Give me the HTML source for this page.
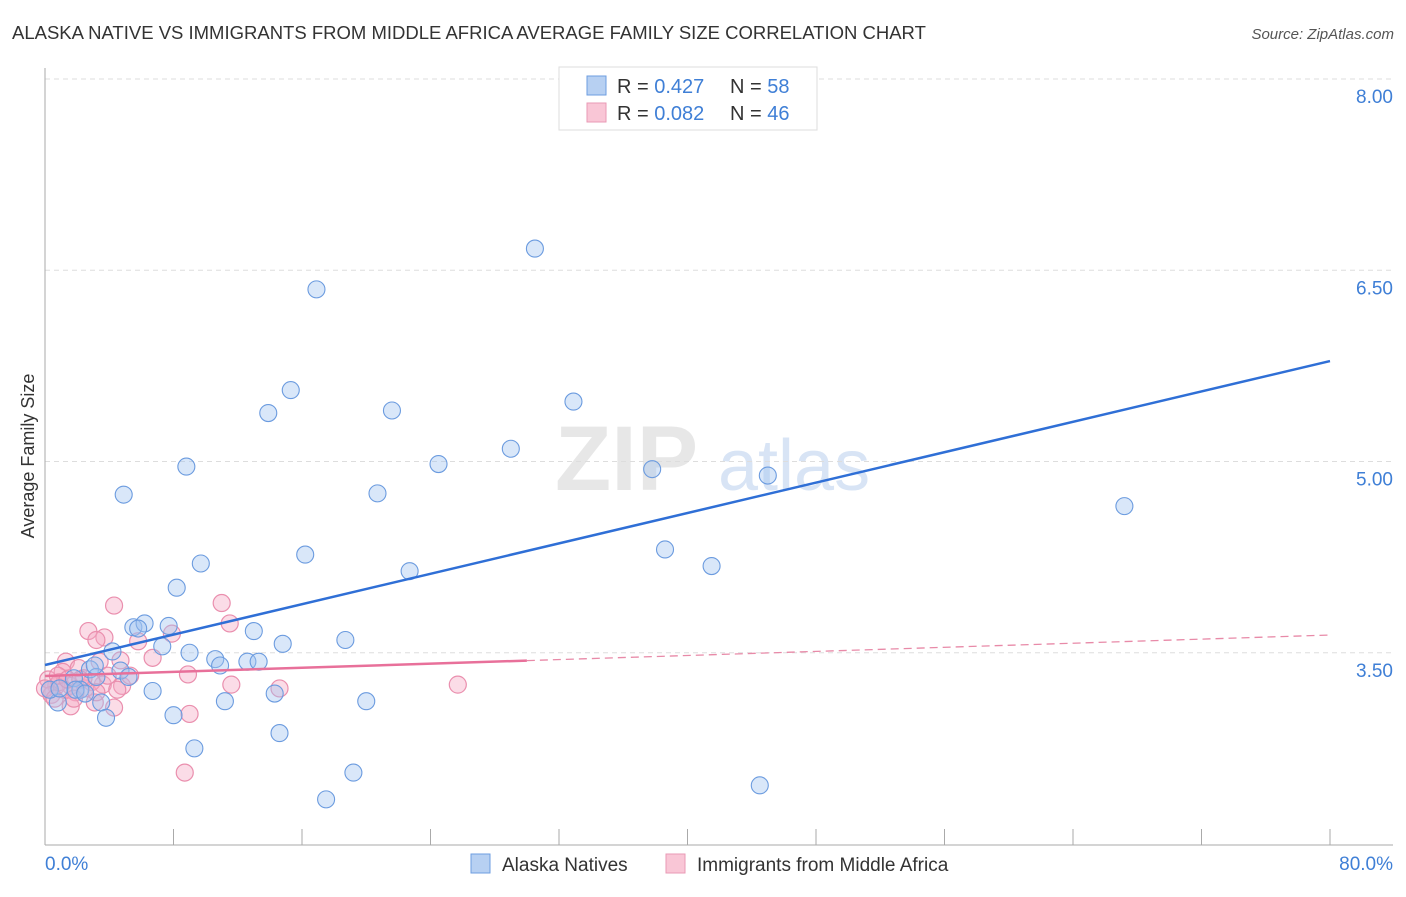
<!DOCTYPE html>
<html><head><meta charset="utf-8"><style>
body{margin:0;background:#fff;font-family:"Liberation Sans",sans-serif;}
svg text{font-family:"Liberation Sans",sans-serif;}
</style></head><body>
<svg id="chart" width="1406" height="892" xmlns="http://www.w3.org/2000/svg">
<text x="12" y="39" font-size="18.5" fill="#333">ALASKA NATIVE VS IMMIGRANTS FROM MIDDLE AFRICA AVERAGE FAMILY SIZE CORRELATION CHART</text>
<text x="1394" y="39" font-size="15" fill="#555" text-anchor="end" font-style="italic">Source: ZipAtlas.com</text>
<g>
<text x="555" y="490" font-size="92" fill="#ddd" font-family="Liberation Serif" font-weight="bold" opacity="0.7">ZIP</text>
<text x="718" y="490" font-size="72" fill="#c8daf2" opacity="0.7">atlas</text>
</g>
<g id="grid"></g>
<g id="axes"></g>
<g id="marks"></g>
<text transform="translate(34,456) rotate(-90)" font-size="18" fill="#333" text-anchor="middle">Average Family Size</text>
<g>
<rect x="559" y="67" width="258" height="63" fill="#fff" stroke="#ddd"/>
<rect x="587" y="76" width="19" height="19" fill="#b7d0f2" stroke="#6e9ee0"/>
<text x="617" y="93" font-size="20" fill="#333">R = <tspan fill="#3f7fd6">0.427</tspan></text>
<text x="730" y="93" font-size="20" fill="#333">N = <tspan fill="#3f7fd6">58</tspan></text>
<rect x="587" y="103" width="19" height="19" fill="#f9c6d6" stroke="#e99ab5"/>
<text x="617" y="120" font-size="20" fill="#333">R = <tspan fill="#3f7fd6">0.082</tspan></text>
<text x="730" y="120" font-size="20" fill="#333">N = <tspan fill="#3f7fd6">46</tspan></text>
</g>
<g>
<rect x="471" y="854" width="19" height="19" fill="#b7d0f2" stroke="#6e9ee0"/>
<text x="502" y="871" font-size="19" fill="#333">Alaska Natives</text>
<rect x="666" y="854" width="19" height="19" fill="#f9c6d6" stroke="#e99ab5"/>
<text x="697" y="871" font-size="19" fill="#333">Immigrants from Middle Africa</text>
</g>
</svg>
<script>
const yTicks=[3.5,5.0,6.5,8.0];
const yTickLabels=["3.50","5.00","6.50","8.00"];
const xTicks=[8,16,24,32,40,48,56,64,72,80];
const blueX=[30.5,16.9,15.3,13.9,21.6,32.9,29.0,24.5,8.8,37.8,45.0,4.9,20.7,67.2,16.2,38.6,9.7,22.7,41.5,8.2,5.5,6.2,7.7,5.8,13.0,18.7,14.8,7.3,9.0,10.6,10.9,12.6,13.3,4.2,2.8,4.7,3.2,5.2,1.8,6.7,14.3,11.2,20.0,0.8,3.5,8.0,3.8,14.6,9.3,19.2,17.5,44.5,0.3,0.9,2.2,3.1,1.9,2.5];
const blueY=[6.67,6.35,5.56,5.38,5.40,5.47,5.10,4.98,4.96,4.94,4.89,4.74,4.75,4.65,4.27,4.31,4.20,4.14,4.18,4.01,3.70,3.73,3.71,3.69,3.67,3.60,3.57,3.55,3.50,3.45,3.40,3.43,3.43,3.51,3.37,3.36,3.31,3.31,3.30,3.20,3.18,3.12,3.12,3.11,3.11,3.01,2.99,2.87,2.75,2.56,2.35,2.46,3.21,3.22,3.21,3.40,3.21,3.18];
const pinkX=[4.3,11.0,2.7,11.5,7.9,3.7,3.2,5.8,6.7,1.3,3.4,4.7,8.9,2.1,1.1,11.6,14.6,25.7,4.8,3.6,4.5,2.9,2.5,1.6,0.7,0.3,0.2,0.9,1.2,1.9,2.4,3.1,4.3,1.6,9.0,8.7,0.4,0.8,1.4,2.2,3.2,3.9,5.3,0.0,0.6,1.8];
const pinkY=[3.87,3.89,3.67,3.73,3.65,3.62,3.60,3.59,3.46,3.43,3.43,3.44,3.33,3.38,3.35,3.25,3.22,3.25,3.24,3.25,3.21,3.27,3.22,3.24,3.24,3.21,3.29,3.27,3.21,3.19,3.30,3.11,3.07,3.08,3.02,2.56,3.17,3.32,3.29,3.29,3.19,3.32,3.32,3.22,3.14,3.14];
const blueTrend=[3.404,5.788];
const pinkTrend=[3.318,3.639];
const pinkSolidEnd=30;
const X=v=>45+v/80*1285;
const Y=v=>79+(8-v)*127.5;
const NS="http://www.w3.org/2000/svg";
function mk(tag,attrs,parent){const e=document.createElementNS(NS,tag);for(const k in attrs)e.setAttribute(k,attrs[k]);parent.appendChild(e);return e;}
const grid=document.getElementById('grid'),axes=document.getElementById('axes'),marks=document.getElementById('marks');
yTicks.forEach((t,i)=>{
 const l=mk('line',{x1:45,x2:1393,y1:Y(t),y2:Y(t),stroke:'#ddd','stroke-dasharray':'5,4'},grid);
 
 
 const tx=mk('text',{x:1393,y:Y(t)+24,'font-size':19,fill:'#3f7fd6','text-anchor':'end'},grid);
 tx.textContent=yTickLabels[i];
 
 
});
let a=mk('line',{x1:45,x2:45,y1:68,y2:845,stroke:'#aaa'},axes);


a=mk('line',{x1:45,x2:1393,y1:845,y2:845,stroke:'#aaa'},axes);


xTicks.forEach(t=>{
 const l=mk('line',{x1:X(t),x2:X(t),y1:829,y2:845,stroke:'#aaa'},axes);
 
 
});
let xl=mk('text',{x:45,y:870,'font-size':19,fill:'#3f7fd6'},axes);xl.textContent='0.0%';


xl=mk('text',{x:1393,y:870,'font-size':19,fill:'#3f7fd6','text-anchor':'end'},axes);xl.textContent='80.0%';


pinkX.forEach((x,i)=>{
 const c=mk('circle',{cx:X(x),cy:Y(pinkY[i]),r:8.5,fill:'rgba(244,168,194,0.4)',stroke:'#ea8fae','stroke-width':1.2},marks);
 
 
});
blueX.forEach((x,i)=>{
 const c=mk('circle',{cx:X(x),cy:Y(blueY[i]),r:8.5,fill:'rgba(160,195,240,0.4)',stroke:'#6b9bdf','stroke-width':1.1},marks);
 
 
});
const py=x=>pinkTrend[0]+(pinkTrend[1]-pinkTrend[0])*x/80;
let tl=mk('line',{x1:X(pinkSolidEnd),y1:Y(py(pinkSolidEnd)),x2:X(80),y2:Y(pinkTrend[1]),stroke:'#e88aa8','stroke-width':1.3,'stroke-dasharray':'8,5'},marks);


tl=mk('line',{x1:X(0),y1:Y(pinkTrend[0]),x2:X(pinkSolidEnd),y2:Y(py(pinkSolidEnd)),stroke:'#e8709a','stroke-width':2.5},marks);


tl=mk('line',{x1:X(0),y1:Y(blueTrend[0]),x2:X(80),y2:Y(blueTrend[1]),stroke:'#2f6fd6','stroke-width':2.5},marks);


</script>
</body></html>
